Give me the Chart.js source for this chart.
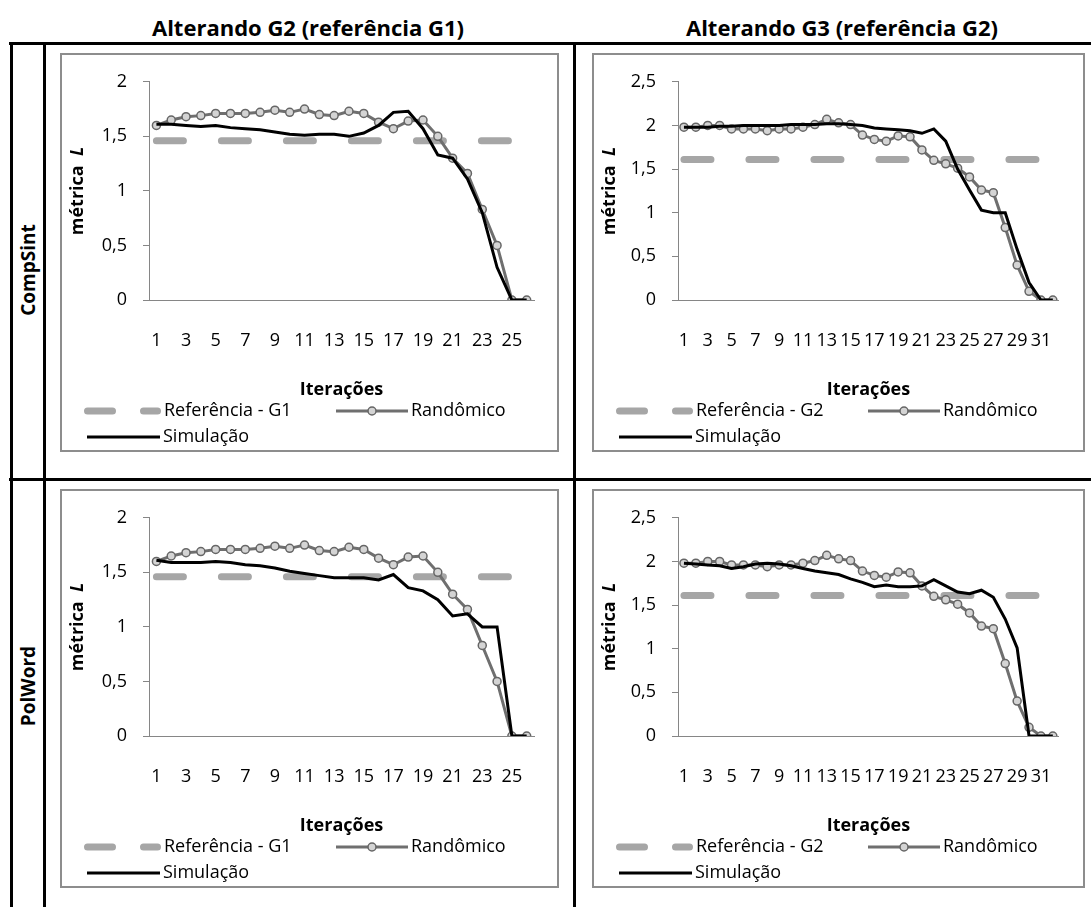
<!DOCTYPE html>
<html>
<head>
<meta charset="utf-8">
<script src="https://cdn.jsdelivr.net/npm/chart.js@4.4.0/dist/chart.umd.min.js"></script>
<style>
  body { margin: 0; background: #fff; font-family: "Open Sans", sans-serif; }
  #page { position: relative; width: 1091px; height: 907px; overflow: hidden; }
  .rule { position: absolute; background: #000; }
  .colTitle { position: absolute; top: 12px; width: 400px; margin-left: -200px; text-align: center;
              font-weight: bold; font-size: 22px; line-height: 30px; white-space: nowrap; }
  .rowTitle { position: absolute; width: 200px; height: 30px; margin-left: -100px; margin-top: -15px;
              text-align: center; font-weight: bold; font-size: 19px; line-height: 30px;
              transform: rotate(-90deg); white-space: nowrap; }
  .box { position: absolute; border: 2px solid #8d8d8d; box-sizing: border-box; height: 399px; }
  .box canvas { display: block; }
</style>
</head>
<body>
<div id="page">
  <div class="colTitle" style="left:308px">Alterando G2 (referência G1)</div>
  <div class="colTitle" style="left:842px">Alterando G3 (referência G2)</div>

  <div class="rule" style="left:9px;top:42px;width:1082px;height:3px"></div>
  <div class="rule" style="left:9px;top:478px;width:1082px;height:3px"></div>
  <div class="rule" style="left:10px;top:42px;width:3px;height:865px"></div>
  <div class="rule" style="left:43px;top:42px;width:3px;height:865px"></div>
  <div class="rule" style="left:573px;top:42px;width:3px;height:865px"></div>

  <div class="rowTitle" style="left:28px;top:270px">CompSint</div>
  <div class="rowTitle" style="left:28px;top:686px">PolWord</div>

  <div class="box" style="left:60px;top:53px;width:499px"><canvas id="c1"></canvas></div>
  <div class="box" style="left:592px;top:53px;width:493px"><canvas id="c2"></canvas></div>
  <div class="box" style="left:60px;top:489px;width:499px"><canvas id="c3"></canvas></div>
  <div class="box" style="left:592px;top:489px;width:493px"><canvas id="c4"></canvas></div>
</div>

<script>
// iterações
const iteracoesG2 = [1,2,3,4,5,6,7,8,9,10,11,12,13,14,15,16,17,18,19,20,21,22,23,24,25,26];
const iteracoesG3 = [1,2,3,4,5,6,7,8,9,10,11,12,13,14,15,16,17,18,19,20,21,22,23,24,25,26,27,28,29,30,31,32];

// linhas de referência
const refG1 = [1.46,1.46,1.46,1.46,1.46,1.46,1.46,1.46,1.46,1.46,1.46,1.46,1.46,1.46,1.46,1.46,1.46,1.46,1.46,1.46,1.46,1.46,1.46,1.46,1.46,1.46];
const refG2 = [1.61,1.61,1.61,1.61,1.61,1.61,1.61,1.61,1.61,1.61,1.61,1.61,1.61,1.61,1.61,1.61,1.61,1.61,1.61,1.61,1.61,1.61,1.61,1.61,1.61,1.61,1.61,1.61,1.61,1.61,1.61,1.61];

// randômico (igual nas duas linhas da tabela)
const randG2 = [1.60,1.65,1.68,1.69,1.71,1.71,1.71,1.72,1.74,1.72,1.75,1.70,1.69,1.73,1.71,1.63,1.57,1.64,1.65,1.50,1.30,1.16,0.83,0.50,0,0];
const randG3 = [1.98,1.98,2.00,2.00,1.96,1.96,1.96,1.94,1.96,1.96,1.98,2.01,2.07,2.03,2.01,1.89,1.84,1.82,1.88,1.87,1.72,1.60,1.56,1.51,1.41,1.26,1.23,0.83,0.40,0.10,0,0];

// simulação
const simCompG2 = [1.61,1.61,1.60,1.59,1.60,1.58,1.57,1.56,1.54,1.52,1.51,1.52,1.52,1.50,1.53,1.60,1.72,1.73,1.57,1.33,1.30,1.11,0.80,0.30,0,0];
const simCompG3 = [1.98,1.98,1.98,1.99,1.99,2.00,2.00,2.00,2.00,2.01,2.01,2.01,2.02,2.02,2.01,2.00,1.97,1.96,1.95,1.94,1.91,1.96,1.82,1.50,1.26,1.03,1.00,1.00,0.58,0.20,0,0];
const simPolG2 = [1.61,1.59,1.59,1.59,1.60,1.59,1.57,1.56,1.54,1.51,1.49,1.47,1.45,1.45,1.45,1.43,1.48,1.36,1.33,1.25,1.10,1.12,1.00,1.00,0,0];
const simPolG3 = [1.98,1.97,1.96,1.95,1.92,1.94,1.97,1.98,1.97,1.95,1.92,1.89,1.87,1.85,1.80,1.76,1.71,1.73,1.71,1.71,1.72,1.79,1.72,1.65,1.63,1.67,1.59,1.34,1.01,0,0,0];

Chart.defaults.font.family = '"Open Sans", sans-serif';
Chart.defaults.font.size = 18;
Chart.defaults.color = '#000';

const AXIS = '#868686';

// titulo do eixo y: "métrica" em negrito + "L" em itálico
const yTitle = {
  id: 'yTitle',
  afterDraw(chart) {
    const ctx = chart.ctx;
    const a = chart.chartArea;
    ctx.save();
    ctx.translate(16, (a.top + a.bottom) / 2);
    ctx.rotate(-Math.PI / 2);
    ctx.fillStyle = '#000';
    ctx.textBaseline = 'middle';
    ctx.font = 'bold 18px "Open Sans"';
    const w1 = ctx.measureText('métrica  ').width;
    ctx.font = 'italic bold 18px "Open Sans"';
    const w2 = ctx.measureText('L').width;
    let x = -(w1 + w2) / 2;
    ctx.font = 'bold 18px "Open Sans"';
    ctx.textAlign = 'left';
    ctx.fillText('métrica  ', x, 0);
    ctx.font = 'italic bold 18px "Open Sans"';
    ctx.fillText('L', x + w1, 0);
    ctx.restore();
  }
};

// legenda no estilo do Excel
const excelLegend = {
  id: 'excelLegend',
  afterDraw(chart, args, opts) {
    const ctx = chart.ctx;
    ctx.save();
    chart.data.datasets.forEach((d, i) => {
      const s = opts.items[i];
      ctx.beginPath();
      ctx.lineWidth = d.borderWidth;
      ctx.strokeStyle = d.borderColor;
      ctx.lineCap = d.borderCapStyle || 'butt';
      ctx.setLineDash(s.dash || []);
      const pad = d.borderCapStyle === 'round' ? d.borderWidth / 2 : 0;
      ctx.moveTo(s.x + pad, s.y);
      ctx.lineTo(s.x + s.len - pad, s.y);
      ctx.stroke();
      ctx.setLineDash([]);
      if (d.pointRadius > 0) {
        ctx.beginPath();
        ctx.arc(s.x + s.len / 2, s.y, d.pointRadius, 0, Math.PI * 2);
        ctx.fillStyle = d.pointBackgroundColor;
        ctx.fill();
        ctx.lineWidth = d.pointBorderWidth;
        ctx.strokeStyle = d.pointBorderColor;
        ctx.stroke();
      }
      ctx.fillStyle = '#000';
      ctx.font = '18px "Open Sans"';
      ctx.textBaseline = 'middle';
      ctx.textAlign = 'left';
      ctx.fillText(d.label, s.x + s.len + 3, s.y);
    });
    ctx.restore();
  }
};

function makeChart(id, labels, ref, refName, rand, sim, yMax, yWidth, padRight, boxW) {
  const canvas = document.getElementById(id);
  canvas.width = boxW - 4;
  canvas.height = 395;
  return new Chart(canvas, {
    type: 'line',
    data: {
      labels,
      datasets: [
        { label: refName, data: ref, borderColor: '#a6a6a6', borderWidth: 7, borderDash: [27, 38],
          borderCapStyle: 'round', pointRadius: 0, order: 2 },
        { label: 'Randômico', data: rand, borderColor: '#6f6f6f', borderWidth: 3,
          pointRadius: 4, pointBorderWidth: 1.5, pointBackgroundColor: '#d4d4d4',
          pointBorderColor: '#666', order: 1 },
        { label: 'Simulação', data: sim, borderColor: '#000', borderWidth: 3, pointRadius: 0, order: 0 }
      ]
    },
    options: {
      responsive: false,
      animation: false,
      layout: { padding: { top: 10, right: padRight, bottom: 49, left: 0 } },
      plugins: {
        legend: { display: false },
        tooltip: { enabled: false },
        excelLegend: {
          items: [
            { x: 22, y: 356, len: 77, dash: [25, 31] },
            { x: 274, y: 356, len: 72 },
            { x: 25, y: 382, len: 73 }
          ]
        }
      },
      scales: {
        x: {
          offset: true,
          grid: { display: false, drawTicks: false },
          border: { color: AXIS, width: 1 },
          ticks: {
            autoSkip: false, maxRotation: 0, minRotation: 0, padding: 30,
            callback: function (v, i) { return i % 2 === 0 ? this.getLabelForValue(v) : ''; }
          },
          title: { display: true, text: 'Iterações', font: { weight: 'bold', size: 18 }, padding: 0 },
          afterFit: (s) => { s.height = 101; }
        },
        y: {
          min: 0, max: yMax,
          grid: { drawOnChartArea: false, drawTicks: true, tickLength: 6, color: AXIS },
          border: { color: AXIS, width: 1 },
          ticks: { stepSize: 0.5, padding: 16, callback: (v) => String(v).replace('.', ',') },
          afterFit: (s) => { s.width = yWidth; }
        }
      }
    },
    plugins: [yTitle, excelLegend]
  });
}

makeChart('c1', iteracoesG2, refG1, 'Referência - G1', randG2, simCompG2, 2, 87, 16, 499);
makeChart('c2', iteracoesG3, refG2, 'Referência - G2', randG3, simCompG3, 2.5, 84, 11, 493);
makeChart('c3', iteracoesG2, refG1, 'Referência - G1', randG2, simPolG2, 2, 87, 16, 499);
makeChart('c4', iteracoesG3, refG2, 'Referência - G2', randG3, simPolG3, 2.5, 84, 11, 493);
</script>
</body>
</html>
